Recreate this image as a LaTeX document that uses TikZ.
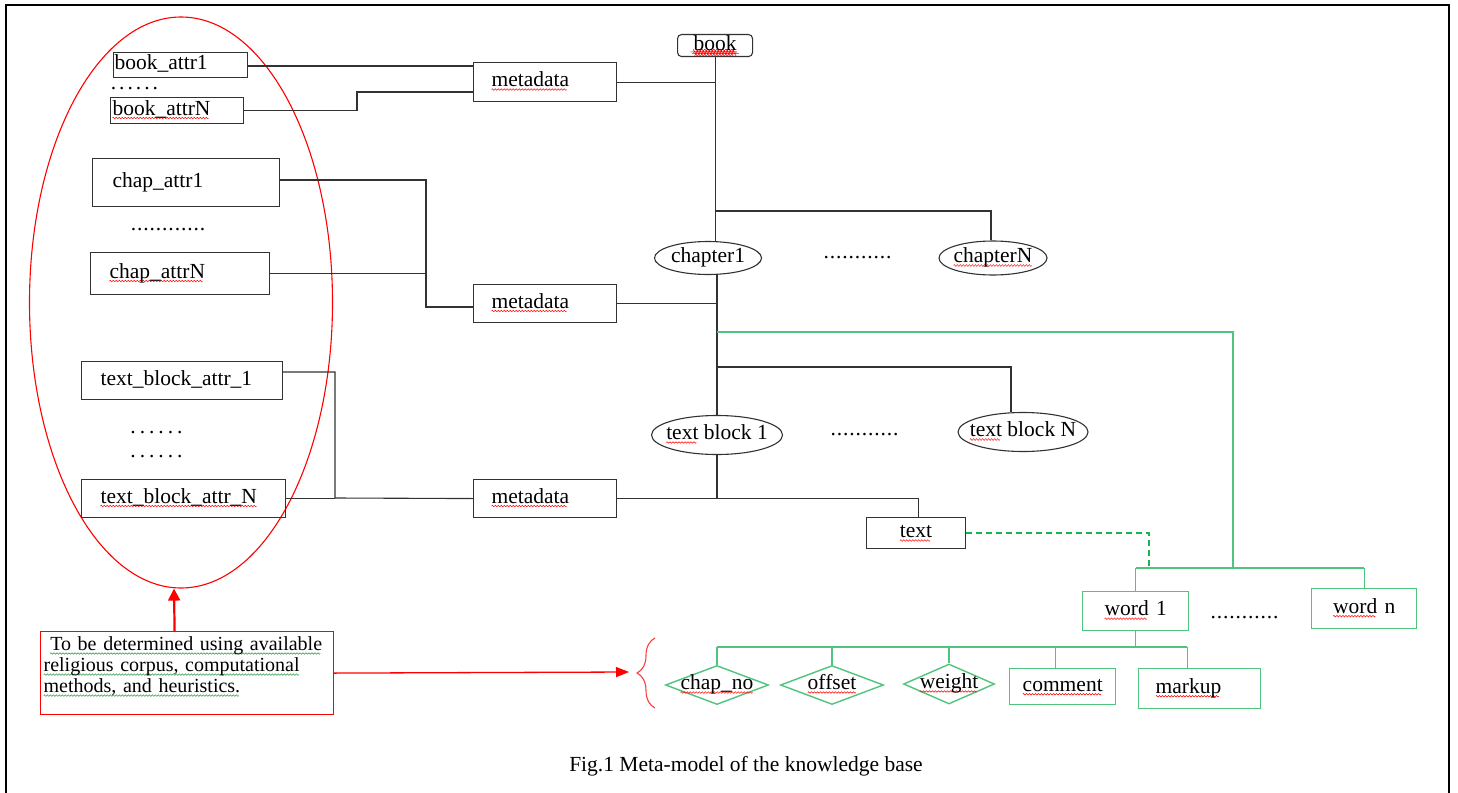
\documentclass[tikz,border=0pt]{standalone}
\usepackage{fontspec}
\setmainfont{Liberation Serif}
\usetikzlibrary{shapes.geometric,decorations.pathreplacing,arrows.meta}

\definecolor{ink}{RGB}{50,50,50}
\definecolor{grn}{RGB}{80,195,125}
\definecolor{grnd}{RGB}{20,180,80}
\definecolor{redl}{RGB}{255,60,60}
\definecolor{sqgreen}{RGB}{40,150,60}

% spell-check style wavy underline under a piece of text
\makeatletter
\newcount\sq@n \newcount\sq@k \newbox\sq@box
\newcommand\sqline[3]{% colour, drop below baseline, text
  \setbox\sq@box\hbox{#3}%
  \sq@n=\wd\sq@box \divide\sq@n by 196608\relax
  \leavevmode\rlap{\begin{pgfpicture}%
    \pgfpathmoveto{\pgfpointorigin}\pgfpathlineto{\pgfpointorigin}%
    \pgfusepath{use as bounding box}%
    \pgfsetbaseline{0pt}%
    \pgfsetlinewidth{0.5pt}\pgfsetstrokecolor{#1}\pgfsetdash{}{0pt}%
    \pgfpathmoveto{\pgfpoint{0pt}{-#2}}%
    \sq@k=0
    \loop\ifnum\sq@k<\sq@n
      \pgfpathsine{\pgfpoint{0.75pt}{0.8pt}}\pgfpathcosine{\pgfpoint{0.75pt}{-0.8pt}}%
      \pgfpathsine{\pgfpoint{0.75pt}{-0.8pt}}\pgfpathcosine{\pgfpoint{0.75pt}{0.8pt}}%
      \advance\sq@k by 1
    \repeat
    \pgfusepath{stroke}%
  \end{pgfpicture}}\box\sq@box}
\makeatother
\newcommand\redsq[1]{\sqline{red}{3pt}{#1}}
\newcommand\grnsq[1]{\sqline{sqgreen}{3pt}{#1}}
% a row of spaced dots: count, extra gap
\newcommand\dotrow[2]{\foreach \i in {1,...,#1}{.\kern#2pt}}

\begin{document}
\begin{tikzpicture}[x=1pt,y=-1pt,
  every node/.style={font=\fontsize{21.5}{22}\selectfont, inner sep=0pt},
  lbl/.style={text height=14pt, text depth=5pt},
  bx/.style={lbl, draw=ink, line width=1.1pt, anchor=north west, align=left},
  gbx/.style={lbl, draw=grn, line width=1.4pt, anchor=north west, align=center},
  ell/.style={draw=ink, line width=1.1pt, ellipse},
  dia/.style={draw=grn, line width=1.4pt, diamond},
  dts/.style={anchor=base},
  ln/.style={draw=ink, line width=1.1pt},
  gln/.style={draw=grn, line width=1.4pt}]

\useasboundingbox (0,0) rectangle (1458,792);

% page frame
\draw[line width=2.2pt] (6,800) -- (6,5) -- (1449,5) -- (1449,800);

% ---- attribute group
\node[draw=red, line width=1.1pt, ellipse, minimum width=303pt, minimum height=571pt] (grp) at (181,302.5) {};

\node[bx, minimum width=134pt, minimum height=25pt, inner xsep=1pt, text width=132pt] (ba1) at (113,52) {book\_attr1};
\node[dts] (dt1) at (136,89) {\dotrow{6}{3.0}};
\node[bx, minimum width=133pt, minimum height=26pt, inner xsep=2pt, text width=129pt] (baN) at (110,97) {\redsq{book\_attrN}};

\node[bx, minimum width=187pt, minimum height=48pt, inner xsep=20pt, text width=147pt] (ca1) at (92,158) {chap\_attr1};
\node[dts] (dt2) at (168.5,230.5) {\dotrow{12}{0.9}};
\node[bx, minimum width=179pt, minimum height=42pt, inner xsep=19pt, text width=141pt] (caN) at (90,252) {\redsq{chap\_attrN}};

\node[bx, minimum width=201pt, minimum height=38pt, inner xsep=19pt, text width=163pt] (tb1) at (81,361) {text\_block\_attr\_1};
\node[dts] (dt3) at (158.5,433.5) {\dotrow{6}{4.0}};
\node[dts] (dt4) at (158.5,457.5) {\dotrow{6}{4.0}};
\node[bx, minimum width=204pt, minimum height=38pt, inner xsep=19pt, text width=166pt] (tbN) at (81,479) {\redsq{text\_block\_attr\_N}};

% ---- metadata boxes
\node[bx, minimum width=143pt, minimum height=39pt, inner xsep=18pt, text width=107pt] (m1) at (473,62) {\redsq{metadata}};
\node[bx, minimum width=143pt, minimum height=38pt, inner xsep=18pt, text width=107pt] (m2) at (473,284) {\redsq{metadata}};
\node[bx, minimum width=143pt, minimum height=38pt, inner xsep=18pt, text width=107pt] (m3) at (473,479) {\redsq{metadata}};

% ---- book / chapters / text blocks
\node[bx, rounded corners=4pt, align=center, minimum width=75pt, minimum height=22pt, text width=75pt, text height=13pt, text depth=4pt] (book) at (677,34) {\sqline{red}{2.5pt}{book}};

\node[ell, minimum width=107pt, minimum height=33pt] (ch1) at (708,258) {};
\node[lbl] (ch1t) at (ch1) {chapter1};
\node[dts] (dt5) at (858,258.5) {\dotrow{11}{0.9}};
\node[ell, minimum width=108pt, minimum height=34pt] (chN) at (993,258) {};
\node[lbl] (chNt) at (chN) {\redsq{chapterN}};

\node[ell, minimum width=131pt, minimum height=39pt] (tb1e) at (717,435) {};
\node[lbl] (tb1t) at (tb1e) {\redsq{text} block 1};
\node[dts] (dt6) at (865,435.5) {\dotrow{11}{0.9}};
\node[ell, minimum width=130pt, minimum height=39pt] (tbNe) at (1023,432) {};
\node[lbl] (tbNt) at (tbNe) {\redsq{text} block N};

\node[bx, align=center, minimum width=99pt, minimum height=31pt, text width=99pt] (txt) at (866,517) {\redsq{text}};

% ---- words and their attributes
\node[gbx, minimum width=106pt, minimum height=39pt, text width=106pt] (word1) at (1082,591) {\redsq{word} 1};
\node[dts] (dt7) at (1245,618.5) {\dotrow{11}{0.9}};
\node[gbx, minimum width=105pt, minimum height=40pt, text width=105pt] (wordn) at (1311,588) {\redsq{word} n};

\node[dia, minimum width=103pt, minimum height=39pt] (d1) at (717,685) {};
\node[lbl] (d1t) at (d1) {\redsq{chap\_no}};
\node[dia, minimum width=103pt, minimum height=39pt] (d2) at (832,685) {};
\node[lbl] (d2t) at (d2) {\redsq{offset}};
\node[dia, minimum width=91pt, minimum height=40pt] (d3) at (949,684) {};
\node[lbl] (d3t) at (d3) {\redsq{weight}};
\node[gbx, minimum width=106pt, minimum height=36pt, text width=106pt] (cm) at (1009,668) {\redsq{comment}};
\node[gbx, align=left, minimum width=122pt, minimum height=40pt, inner xsep=17pt, text width=88pt] (mk) at (1138,668) {\redsq{markup}};

% ---- note
\node[draw=red, line width=1.2pt, anchor=north west, minimum width=293pt, minimum height=83pt, inner xsep=3pt, text width=287pt, align=left, font=\fontsize{20}{21}\selectfont] (note) at (40,631)
  {\ \grnsq{To be determined using available}\\\grnsq{religious corpus, computational}\\\grnsq{methods, and heuristics.}\\[-4pt]\mbox{}};
\coordinate (brtip) at (637,672);

% caption
\node (cap) at (746,766) {Fig.1 Meta-model of the knowledge base};

% ---- black connectors
\draw[ln] (ba1.east |- 0,66) -- (m1.west |- 0,66);
\draw[ln] (baN.east) -| (357,92) -- (m1.west |- 0,92);
\draw[ln] (ca1.east |- 0,180) -| (426,307) -- (m2.west |- 0,307);
\draw[ln] (caN.east) -- (caN.east -| 426,0);
\draw[ln] (tb1.east |- 0,372) -| (335,498) -- (m3.west);
\draw[ln] (tbN.east) -- (tbN.east -| 335,0);

\draw[ln] (book.south) -- (book.south |- ch1.north);
\draw[ln] (m1.east) -- (m1.east -| book.south);
\draw[ln] (book.south |- 0,211) -| ([xshift=-2pt]chN.north);
\draw[ln] (ch1.south -| tb1e.north) -- (tb1e.north);
\draw[ln] (m2.east) -- (m2.east -| tb1e.north);
\draw[ln] (tb1e.north |- 0,367) -| ([xshift=-12pt]tbNe.north);
\draw[ln] (tb1e.south) -- (tb1e.south |- m3.east);
\draw[ln] (m3.east) -| ([xshift=2pt]txt.north);

% ---- green connectors
\draw[gln] (tb1e.north |- 0,332) -| (1233,568);
\draw[gln] (word1.north |- 0,568) -- (wordn.north |- 0,568);
\draw[gln] (word1.north |- 0,568) -- (word1.north);
\draw[gln] (wordn.north |- 0,568) -- (wordn.north);
\draw[draw=grnd, line width=1.4pt, dash pattern=on 6pt off 4pt] (txt.east) -| (1149,568);

\draw[gln] (word1.south) -- (word1.south |- 0,647);
\draw[gln] (d1.north |- 0,647) -- (1187,647);
\draw[gln] (d1.north |- 0,647) -- (d1.north);
\draw[gln] (d2.north |- 0,647) -- (d2.north);
\draw[gln] (d3.north |- 0,647) -- (d3.north);
\draw[gln] ([xshift=-7pt]cm.north |- 0,647) -- ([xshift=-7pt]cm.north);
\draw[gln] ([xshift=-12pt]mk.north |- 0,647) -- ([xshift=-12pt]mk.north);

% ---- red annotation
\draw[red, line width=2.2pt, -{Triangle[length=12pt,width=12pt]}] ([xshift=-12.5pt]note.north) -- ([xshift=-7pt]grp.south);
\draw[red, line width=1.3pt, -{Triangle[length=13pt,width=10pt]}] (note.east) -- ([xshift=-8pt]brtip);
\draw[redl, line width=1.1pt, decorate, decoration={brace, amplitude=18pt}] (655,708) -- (655,638);

\end{tikzpicture}
\end{document}
